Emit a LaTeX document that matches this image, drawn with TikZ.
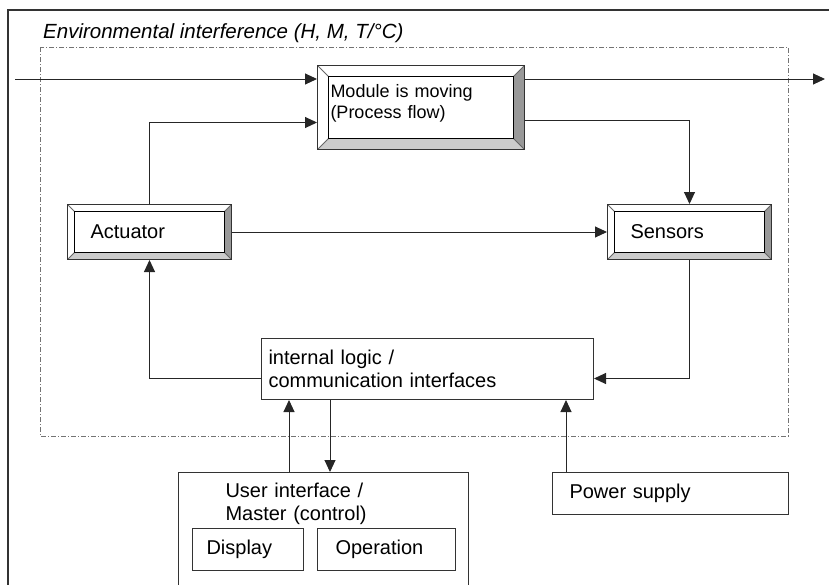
\documentclass[tikz,border=0pt]{standalone}
\usepackage{fontspec}
\setmainfont{Liberation Sans}
\usetikzlibrary{positioning, calc, arrows.meta}

\begin{document}
\begin{tikzpicture}[x = 1pt, y = -1pt, font = \fontsize{20}{23}\selectfont]

\tikzset{
plainbox/.style = {rectangle, draw = black!80, fill = white, inner ysep = 0pt, 
	anchor = north west, align = left, line width = 1pt},
bevelled/.style = {plainbox, path picture = {
	\coordinate (bsw) at (path picture bounding box.south west);
	\coordinate (bne) at (path picture bounding box.north east);
	\coordinate (bnw) at (bsw |- bne);
	\coordinate (bse) at (bne |- bsw);
	\coordinate (isw) at ($(bsw) + (#1, #1)$);
	\coordinate (ine) at ($(bne) + (-#1, -#1)$);
	\coordinate (inw) at (isw |- ine);
	\coordinate (ise) at (ine |- isw);
	\fill [black!40] (bne) -- (bse) -- (ise) -- (ine) -- cycle;
	\fill [black!20] (bsw) -- (bse) -- (ise) -- (isw) -- cycle;
	\draw [black!60] (bnw) -- (inw) (bsw) -- (isw) (bse) -- (ise) (bne) -- (ine);
	\draw [black, line width = 1pt] (isw) rectangle (ine);
	}},
flow/.style = {-{Triangle[length = 12pt, width = 11pt]}, color = black!85, line width = 1pt},
vh/.style = {to path = {|- (\tikztotarget)}},
hv/.style = {to path = {-| (\tikztotarget)}},
envbox/.style = {draw = black!55, line width = 1pt, dash pattern = on 5pt off 2pt on 1pt off 2pt},
	}

\clip (0, 0) rectangle (829, 584);

%% Frame
\draw [black!80, line width = 1.5pt] (840, 10) -- (8, 10) -- (8, 600);
\draw [envbox] (40, 47) rectangle (788, 436);
\node at (43, 38) [anchor = base west, inner sep = 0pt, font = \fontsize{20.5}{23}\selectfont\itshape] (title) 
	{Environmental interference (H, M, T/°C)};

%% Module
% Blocks
\node at (317, 65) [bevelled = 11pt, minimum height = 84pt, text width = 181pt, inner xsep = 13pt, 
	text depth = 34pt, font = \fontsize{18}{21}\selectfont] (modul) {Module is moving\\(Process flow)};
\node at (67, 204) [bevelled = 7pt, minimum height = 55pt, text width = 118pt, inner xsep = 23pt] (act) {Actuator};
\node at (607, 204) [bevelled = 7pt, minimum height = 55pt, text width = 118pt, inner xsep = 23pt] (sens) {Sensors};
\node at (261, 338) [plainbox, minimum height = 61pt, text width = 318pt, inner xsep = 7pt] (logic) 
	{internal logic /\\communication interfaces};

% Outside
\node at (178, 472) [plainbox, inner ysep = 10pt, text depth = 110pt, text width = 196pt, inner xsep = 47pt] (user) 
	{User interface /\\Master (control)};
\node at (192, 528) [plainbox, minimum height = 42pt, text width = 83pt, inner xsep = 14pt] (disp) {Display};
\node at (317, 528) [plainbox, minimum height = 42pt, text width = 102pt, inner xsep = 18pt] (oper) {Operation};
\node at (552, 472) [plainbox, minimum height = 42pt, text width = 202pt, inner xsep = 17pt] (power) {Power supply};

\coordinate (in) at (15, 79);
\coordinate (out) at (825, 79);
\coordinate (uup) at ([xshift = 111pt]user.north west);
\coordinate (udown) at ([xshift = 69pt]logic.south west);
\coordinate (pup) at ([xshift = 14pt]power.north west);

% The connections
\path [flow] (in) edge [] (in -| modul.west);
\path [flow] (modul.east |- out) edge [] (out);
\path [flow] (act.north) edge [vh] ([yshift = -15pt]modul.west);
\path [flow] ([yshift = -13pt]modul.east) edge [hv] (sens.north);
\path [flow] (act.east) edge [] (sens.west);
\path [flow] (sens.south) edge [vh] ([yshift = -9.5pt]logic.east);
\path [flow] ([yshift = -9.5pt]logic.west) edge [hv] (act.south);
\path [flow] (uup) edge [] (uup |- logic.south);
\path [flow] (udown) edge [] (udown |- user.north);
\path [flow] (pup) edge [] (pup |- logic.south);

\end{tikzpicture}
\end{document}
